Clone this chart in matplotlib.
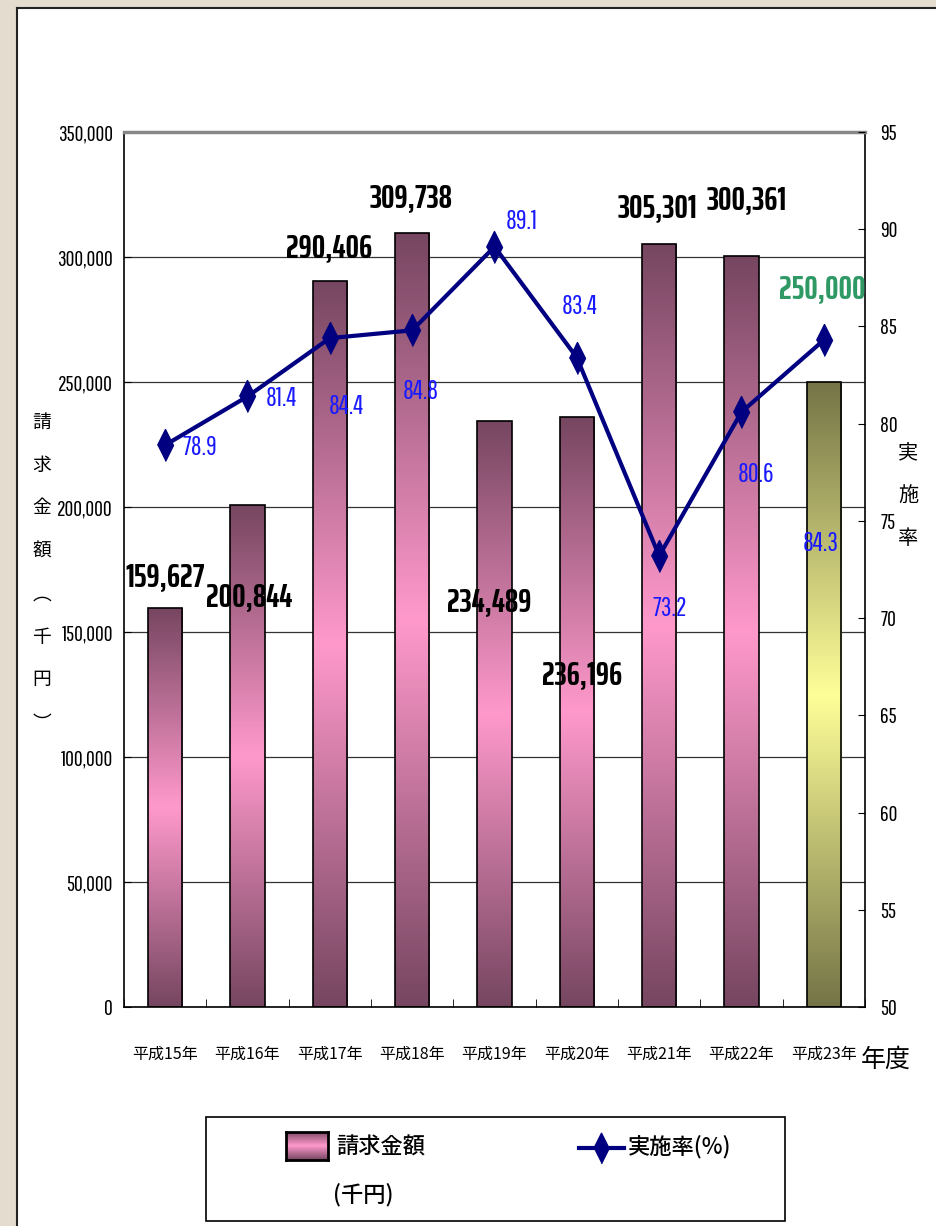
import numpy as np
import matplotlib
matplotlib.use("Agg")
import matplotlib.pyplot as plt
from matplotlib.patches import Rectangle
from matplotlib.lines import Line2D
from matplotlib.colors import LinearSegmentedColormap

JP = ['Noto Sans CJK JP', 'DejaVu Sans']
NUM = ['Pathway Gothic One', 'Antonio', 'Liberation Sans', 'DejaVu Sans']
NUM_BOLD = ['Saira ExtraCondensed', 'Oswald', 'Liberation Sans', 'DejaVu Sans']
plt.rcParams['font.family'] = NUM + ['Noto Sans CJK JP']

# data
years = ['平成15年', '平成16年', '平成17年', '平成18年', '平成19年',
         '平成20年', '平成21年', '平成22年', '平成23年']
amounts = [159627, 200844, 290406, 309738, 234489, 236196, 305301, 300361, 250000]
rates = [78.9, 81.4, 84.4, 84.8, 89.1, 83.4, 73.2, 80.6, 84.3]

# label offsets in pixels (x right, y up) from bar top / marker
amount_offsets = [(0, 31), (2, -92), (-1, 33), (-1, 34), (-5, -181), (5, -259), (-2, 36), (5, 56), (-2, 93)]
rate_offsets = [(35, -2), (34, -2), (17, -68), (9, -61), (27, 25), (3, 51), (11, -53), (15, -62), (-3, -203)]

pink = LinearSegmentedColormap.from_list('pink', ['#764660', '#ff99cc', '#764660'])
olive = LinearSegmentedColormap.from_list('olive', ['#747447', '#ffff99', '#747447'])
thin_diamond = [(0, -1), (0.5, 0), (0, 1), (-0.5, 0)]

W, H = 936, 1226
fig = plt.figure(figsize=(W / 100, H / 100), dpi=100)
fig.patch.set_facecolor('#e4dccf')

# white panel with dark edge on left and top
panel = Rectangle((17 / W, 0), 1 - 17 / W, 1 - 8 / H, transform=fig.transFigure,
                  facecolor='white', edgecolor='none', zorder=-5)
fig.patches.append(panel)
fig.add_artist(Line2D([17 / W, 17 / W], [0, 1 - 8 / H], color='#222222', lw=1.5))
fig.add_artist(Line2D([17 / W, 1], [1 - 8 / H, 1 - 8 / H], color='#222222', lw=1.5))

ax = fig.add_axes([124 / W, 1 - 1007 / H, (865 - 124) / W, (1007 - 132) / H])
ax.set_facecolor('none')
x = np.arange(len(years))
bars = ax.bar(x, amounts, width=0.42, facecolor='none', edgecolor='black', lw=1.2, zorder=3)

# gradient fill clipped to each bar
grad = np.linspace(0, 1, 256).reshape(-1, 1)
for i, b in enumerate(bars):
    cmap = olive if i == len(bars) - 1 else pink
    bx, bw, bh = b.get_x(), b.get_width(), b.get_height()
    im = ax.imshow(grad, cmap=cmap, aspect='auto', extent=(bx, bx + bw, 0, bh),
                   origin='upper', zorder=2)
    im.set_clip_path(b)
ax.set_aspect('auto')
ax.set_xlim(-0.5, len(years) - 0.5)
ax.set_ylim(0, 350000)

ax.set_yticks(np.arange(0, 350001, 50000))
ax.set_yticklabels([f'{v:,}' for v in range(0, 350001, 50000)], fontsize=15.5, family=NUM)
ax.yaxis.grid(True, color='#333333', lw=0.9, zorder=0)
ax.set_axisbelow(True)
ax.set_xticks(x)
ax.set_xticklabels(years, fontsize=11.5, family=JP)
ax.set_xticks(np.arange(-0.5, len(years)), minor=True)
ax.tick_params(axis='x', which='major', length=0, pad=28)
ax.tick_params(axis='x', which='minor', length=6, direction='in')
ax.tick_params(axis='y', direction='in', length=5, pad=8)
ax.spines['top'].set_color('#888888')
ax.spines['top'].set_linewidth(2.5)
for s in ['left', 'bottom', 'right']:
    ax.spines[s].set_linewidth(1.2)

ax2 = ax.twinx()
ax2.set_ylim(50, 95)
ax2.set_yticks(np.arange(50, 96, 5))
ax2.set_yticklabels([str(v) for v in range(50, 96, 5)], fontsize=15.5, family=NUM)
ax2.tick_params(axis='y', direction='in', length=5, pad=11)
ax2.plot(x, rates, color='#000080', lw=3, marker=thin_diamond, markersize=23, zorder=5)
for s in ax2.spines.values():
    s.set_visible(False)

for i, v in enumerate(amounts):
    dx, dy = amount_offsets[i]
    color = '#2f9966' if i == len(amounts) - 1 else 'black'
    ax2.annotate(f'{v:,}', (x[i], v), xycoords=ax.transData, xytext=(dx, dy),
                 textcoords='offset pixels', ha='center', va='center',
                 fontsize=24, fontweight='bold', family=NUM_BOLD, color=color, zorder=6)
for i, r in enumerate(rates):
    dx, dy = rate_offsets[i]
    ax2.annotate(f'{r}', (x[i], r), xytext=(dx, dy), textcoords='offset pixels',
                 ha='center', va='center', fontsize=19, family=NUM,
                 color='#1a1aff', zorder=6)

# axis titles, stacked vertically
left_title = ['請', '求', '金', '額', '︵', '千', '円', '︶']
for k, ch in enumerate(left_title):
    fig.text(42 / W, 1 - (422 + 43 * k) / H, ch, ha='center', va='center',
             fontsize=13.5, family=JP)
for k, ch in enumerate(['実', '施', '率']):
    fig.text(908 / W, 1 - (453 + 43 * k) / H, ch, ha='center', va='center',
             fontsize=14.5, family=JP)
fig.text(886 / W, 1 - 1060 / H, '年度', ha='center', va='center',
         fontsize=18, family=JP)

# legend, laid out by hand
fig.add_artist(Rectangle((206 / W, 1 - 1221 / H), (785 - 206) / W, (1221 - 1117) / H,
                         transform=fig.transFigure, facecolor='white',
                         edgecolor='black', lw=1.2, zorder=-1))
lax = fig.add_axes([286 / W, 1 - 1160 / H, 42 / W, 28 / H])
lax.imshow(grad, cmap=pink, aspect='auto')
lax.set_xticks([])
lax.set_yticks([])
for s in lax.spines.values():
    s.set_linewidth(2)
fig.text(336 / W, 1 - 1147 / H, '請求金額', ha='left', va='center', fontsize=16,
         family=JP, fontweight='medium')
fig.text(333 / W, 1 - 1195 / H, '(千円)', ha='left', va='center', fontsize=16,
         family=JP, fontweight='medium')
fig.add_artist(Line2D([579 / W, 624 / W], [1 - 1148 / H, 1 - 1148 / H], color='#000080', lw=3))
fig.add_artist(Line2D([601 / W], [1 - 1148 / H], color='#000080', marker=thin_diamond,
                      markersize=22, lw=0))
fig.text(628 / W, 1 - 1147 / H, '実施率(%)', ha='left', va='center', fontsize=16,
         family=JP, fontweight='medium')

fig.savefig('out.png', dpi=100)
